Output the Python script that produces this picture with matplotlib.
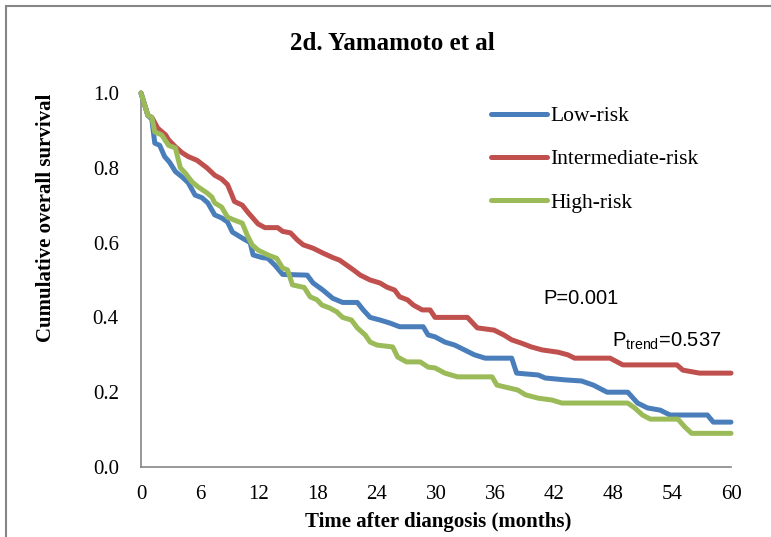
import matplotlib
matplotlib.use('Agg')
import matplotlib.pyplot as plt
import matplotlib.patches as patches

plt.rcParams['mathtext.fontset'] = 'custom'
plt.rcParams['mathtext.rm'] = 'Liberation Sans'

# Kaplan-Meier Kurven
low_t = [0, 0.7, 1.1, 1.4, 1.9, 2.4, 2.9, 3.5, 4.2, 4.8,
         5.5, 6.2, 6.8, 7.5, 8.2, 8.8, 9.3, 10.3, 11.1, 11.4,
         12.3, 12.9, 13.6, 14.4, 16.9, 17.5, 18.5, 19.5, 20.5, 22.0,
         22.6, 23.3, 24.3, 25.3, 26.3, 28.7, 29.2, 29.9, 30.9, 31.9,
         32.9, 33.9, 35.0, 37.7, 38.2, 40.4, 41.1, 43.1, 44.8, 46.0,
         47.4, 49.5, 50.5, 51.5, 52.8, 53.8, 57.6, 58.2, 60]
low_s = [1.0, 0.94, 0.93, 0.866, 0.86, 0.83, 0.815, 0.79, 0.775, 0.76,
         0.727, 0.72, 0.706, 0.674, 0.666, 0.655, 0.628, 0.612, 0.60, 0.567,
         0.56, 0.558, 0.54, 0.515, 0.513, 0.492, 0.473, 0.451, 0.44, 0.44,
         0.42, 0.40, 0.393, 0.385, 0.375, 0.375, 0.353, 0.348, 0.334, 0.326,
         0.313, 0.30, 0.291, 0.291, 0.251, 0.246, 0.238, 0.233, 0.23, 0.219,
         0.20, 0.20, 0.171, 0.158, 0.152, 0.139, 0.139, 0.12, 0.12]

mid_t = [0, 0.7, 1.1, 1.7, 2.5, 2.8, 3.5, 4.2, 4.8, 5.7,
         6.2, 6.7, 7.5, 8.2, 8.8, 9.2, 9.5, 10.3, 10.9, 11.4,
         11.9, 12.6, 13.9, 14.4, 15.2, 15.9, 16.5, 17.5, 18.5, 19.5,
         20.2, 20.9, 21.6, 22.3, 23.3, 24.3, 25.0, 25.8, 26.3, 27.1,
         27.7, 28.6, 29.4, 29.9, 33.2, 34.2, 35.9, 36.9, 37.7, 38.7,
         39.7, 40.8, 42.4, 43.4, 44.1, 47.7, 49.0, 54.5, 55.1, 56.8, 60]
mid_s = [1.0, 0.94, 0.935, 0.906, 0.888, 0.875, 0.856, 0.84, 0.83, 0.82,
         0.81, 0.80, 0.78, 0.77, 0.755, 0.73, 0.71, 0.70, 0.68, 0.665,
         0.65, 0.64, 0.64, 0.63, 0.626, 0.607, 0.594, 0.585, 0.572, 0.56,
         0.553, 0.54, 0.527, 0.513, 0.50, 0.492, 0.481, 0.473, 0.455, 0.447,
         0.433, 0.42, 0.42, 0.40, 0.40, 0.372, 0.366, 0.353, 0.34, 0.331,
         0.321, 0.313, 0.307, 0.30, 0.291, 0.291, 0.273, 0.273, 0.259, 0.251, 0.251]

high_t = [0, 0.7, 1.1, 1.4, 2.1, 2.8, 3.5, 4.0, 4.5, 5.2,
          5.8, 6.7, 7.2, 7.5, 8.2, 8.8, 9.5, 10.3, 10.8, 11.3,
          11.9, 12.9, 13.8, 14.4, 14.9, 15.4, 16.6, 17.2, 17.9, 18.4,
          19.2, 19.9, 20.5, 21.4, 22.0, 22.8, 23.3, 24.0, 25.6, 26.1,
          27.0, 28.4, 29.2, 29.9, 30.9, 32.2, 35.7, 36.2, 37.0, 38.3,
          39.1, 40.4, 41.8, 42.8, 49.5, 50.2, 51.0, 51.8, 54.6, 55.3,
          56.0, 60]
high_s = [1.0, 0.94, 0.935, 0.896, 0.888, 0.86, 0.853, 0.80, 0.786, 0.762,
          0.749, 0.733, 0.722, 0.706, 0.695, 0.668, 0.66, 0.652, 0.62, 0.594,
          0.58, 0.567, 0.558, 0.532, 0.527, 0.487, 0.48, 0.455, 0.447, 0.433,
          0.425, 0.415, 0.40, 0.393, 0.372, 0.353, 0.334, 0.326, 0.321, 0.294,
          0.281, 0.281, 0.267, 0.265, 0.251, 0.241, 0.241, 0.219, 0.214, 0.206,
          0.193, 0.184, 0.179, 0.171, 0.171, 0.158, 0.139, 0.128, 0.128, 0.107,
          0.09, 0.09]

x_ticks = list(range(0, 61, 6))
y_ticks = [0.0, 0.2, 0.4, 0.6, 0.8, 1.0]

fig = plt.figure(figsize=(7.71, 5.37), dpi=100)
ax = fig.add_axes([141 / 771, 70 / 537, 590 / 771, 374 / 537])

serif = 'Liberation Serif'
lw = 3.6
ax.plot(low_t, low_s, color='#4A7EBB', lw=lw, solid_capstyle='round',
        solid_joinstyle='round', clip_on=False, label='Low-risk', zorder=3)
ax.plot(mid_t, mid_s, color='#C0504D', lw=lw, solid_capstyle='round',
        solid_joinstyle='round', clip_on=False, label='Intermediate-risk', zorder=2)
ax.plot(high_t, high_s, color='#9BBB59', lw=lw, solid_capstyle='round',
        solid_joinstyle='round', clip_on=False, label='High-risk', zorder=4)

ax.set_xlim(0, 60)
ax.set_ylim(0, 1)
ax.set_xticks(x_ticks)
ax.set_yticks(y_ticks)
ax.set_yticklabels(['%.1f' % v for v in y_ticks])
ax.tick_params(length=0, labelsize=15)
ax.tick_params(axis='x', pad=13)
ax.tick_params(axis='y', pad=16)
for lab in ax.get_xticklabels() + ax.get_yticklabels():
    lab.set_fontfamily(serif)

for s in ['top', 'right']:
    ax.spines[s].set_visible(False)
for s in ['left', 'bottom']:
    ax.spines[s].set_color('#868686')
    ax.spines[s].set_linewidth(1.2)

# Legende
handles, labels = ax.get_legend_handles_labels()
leg = fig.legend(handles, labels,
                 loc='upper left', bbox_to_anchor=(491 / 771, 1 - 106 / 537),
                 frameon=False, prop={'family': serif, 'size': 15.5},
                 handlelength=2.6, handletextpad=0.15, labelspacing=1.08,
                 borderpad=0, borderaxespad=0)

# Titel und Achsenbeschriftungen
fig.text(392 / 771, 1 - 44 / 537, '2d. Yamamoto et al', ha='center', va='center',
         fontsize=18, fontweight='bold', family=serif)
fig.text(438 / 771, 1 - 522 / 537, 'Time after diangosis (months)', ha='center',
         va='center', fontsize=15, fontweight='bold', family=serif)
fig.text(46 / 771, 1 - 218 / 537, 'Cumulative overall survival', ha='center',
         va='center', rotation=90, fontsize=15, fontweight='bold', family=serif)

# P-Werte
fig.text(543 / 771, 1 - 299 / 537, 'P=0.001', ha='left', va='center',
         fontsize=14.5, family='Liberation Sans')
fig.text(612 / 771, 1 - 341 / 537, r'P$_{\mathrm{trend}}$=0.537', ha='left',
         va='center', fontsize=14.5, family='Liberation Sans')

# Rahmen
fig.patches.append(patches.Rectangle((6 / 771, -0.2), 1.2, 1.2 - 6 / 537,
                                     transform=fig.transFigure, fill=False,
                                     edgecolor='#868686', linewidth=1.5))

fig.savefig('out.png', dpi=100)
